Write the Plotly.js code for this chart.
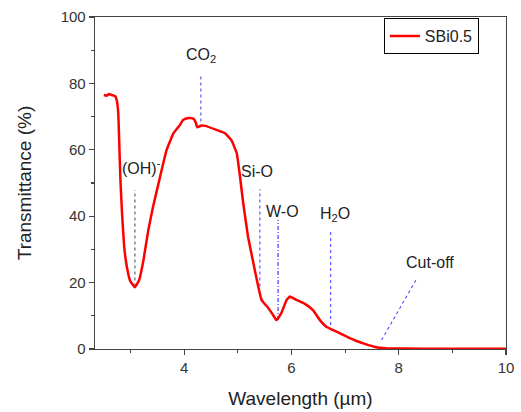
<!DOCTYPE html>
<html>
<head>
<meta charset="utf-8">
<script src="https://cdn.plot.ly/plotly-3.0.1.min.js"></script>
<style>html,body{margin:0;padding:0;background:#fff;}#chart{width:521px;height:412px;}</style>
</head>
<body>
<div id="chart"></div>
<script>
// Spectrum (wavelength in µm, transmittance in %)
const wavelength = [2.50, 2.55, 2.60, 2.65, 2.71, 2.74, 2.77, 2.79, 2.81, 2.84, 2.88, 2.93, 2.99, 3.08, 3.16, 3.24, 3.33, 3.42, 3.55, 3.67, 3.80, 3.92, 3.98, 4.05, 4.11, 4.18, 4.22, 4.24, 4.32, 4.39, 4.60, 4.76, 4.88, 4.98, 5.04, 5.10, 5.19, 5.29, 5.38, 5.44, 5.50, 5.57, 5.65, 5.72, 5.81, 5.91, 5.97, 6.09, 6.25, 6.40, 6.53, 6.65, 6.84, 7.03, 7.21, 7.34, 7.58, 7.77, 8.5, 9.0, 10.0];
const transmittance = [76.5, 76.3, 76.8, 76.5, 76.2, 75.0, 71.0, 61.0, 51.0, 40.9, 30.8, 24.8, 20.6, 18.6, 20.8, 26.8, 35.8, 42.9, 51.9, 59.9, 65.0, 67.5, 69.0, 69.5, 69.6, 69.3, 68.0, 66.8, 67.3, 67.2, 66.0, 65.0, 62.9, 58.9, 51.9, 43.9, 33.8, 25.8, 18.8, 14.8, 13.6, 12.3, 10.4, 8.7, 10.8, 14.8, 15.8, 14.8, 13.6, 11.7, 8.7, 6.7, 5.2, 3.7, 2.4, 1.7, 0.5, 0.2, 0.1, 0.1, 0.1];

// Band markers
const bandLabels = ['(OH)<sup>-</sup>', 'CO<sub>2</sub>', 'Si-O', 'W-O', 'H<sub>2</sub>O'];
const bandX = [3.08, 4.31, 5.41, 5.75, 6.73];
const bandTop = [47.9, 82.5, 48.1, 38.9, 35.8];
const bandBottom = [18.8, 68.5, 18.8, 8.7, 7.2];
const labelX = [3.21, 4.32, 5.35, 5.83, 6.81];
const labelY = [54.8, 88.5, 53.4, 41.3, 40.4];
// Cut-off marker
const cutoffLabel = 'Cut-off';
const cutoffLineX = [7.68, 8.34];
const cutoffLineY = [2.7, 21.3];
const cutoffLabelX = 8.58;
const cutoffLabelY = 26.2;

const xTicks = [4, 6, 8, 10];
const yTicks = [0, 20, 40, 60, 80, 100];

const bandColors = ['#555555', '#4a4aff', '#4a4aff', '#3030ff', '#4a4aff'];
const bandDash = ['dot', 'dot', 'dot', '4px,2px,1px,2px', 'dot'];

const traces = [];
for (let i = 0; i < bandX.length; i++) {
  traces.push({
    x: [bandX[i], bandX[i]], y: [bandBottom[i], bandTop[i]],
    mode: 'lines', showlegend: false, hoverinfo: 'skip',
    line: {color: bandColors[i], width: 1.1, dash: bandDash[i]}
  });
}
traces.push({
  x: cutoffLineX, y: cutoffLineY, mode: 'lines', showlegend: false, hoverinfo: 'skip',
  line: {color: '#4a4aff', width: 1.1, dash: 'dot'}
});
traces.push({
  x: wavelength, y: transmittance, mode: 'lines', name: 'SBi0.5',
  line: {color: '#ff0000', width: 2.5, shape: 'spline', smoothing: 0.3}
});

const annFont = {family: 'Liberation Sans, Arial, sans-serif', size: 16, color: '#222'};
const annotations = bandLabels.map((t, i) => ({
  x: labelX[i], y: labelY[i], xref: 'x', yref: 'y', text: t, showarrow: false, font: annFont
}));
annotations.push({x: cutoffLabelX, y: cutoffLabelY, xref: 'x', yref: 'y', text: cutoffLabel, showarrow: false, font: annFont});

const axisCommon = {
  showline: true, linecolor: '#444', linewidth: 1.3, mirror: true,
  ticks: 'outside', ticklen: 5, tickwidth: 1.2, tickcolor: '#444',
  showgrid: false, zeroline: false,
  tickfont: {family: 'Liberation Sans, Arial, sans-serif', size: 15, color: '#333'}
};

const layout = {
  width: 521, height: 412,
  margin: {l: 95, r: 15, t: 17, b: 63},
  paper_bgcolor: '#fff', plot_bgcolor: '#fff',
  xaxis: Object.assign({}, axisCommon, {
    range: [2.336, 10], tickvals: xTicks, ticktext: xTicks.map(String),
    minor: {dtick: 1, tick0: 3, ticks: 'outside', ticklen: 3, tickcolor: '#444'},
    title: {text: 'Wavelength (µm)', font: {family: 'Liberation Sans, Arial, sans-serif', size: 19, color: '#222'}, standoff: 16}
  }),
  yaxis: Object.assign({}, axisCommon, {
    range: [0, 100], tickvals: yTicks, ticktext: yTicks.map(String),
    minor: {dtick: 10, tick0: 0, ticks: 'outside', ticklen: 3, tickcolor: '#444'},
    title: {text: 'Transmittance (%)', font: {family: 'Liberation Sans, Arial, sans-serif', size: 19, color: '#222'}, standoff: 24}
  }),
  legend: {
    x: 0.934, y: 0.997, xanchor: 'right', yanchor: 'top',
    bordercolor: '#000', borderwidth: 1, bgcolor: '#fff',
    font: {family: 'Liberation Sans, Arial, sans-serif', size: 16, color: '#222'},
    tracegroupgap: 0
  },
  annotations: annotations,
  showlegend: true
};

Plotly.newPlot('chart', traces, layout, {displayModeBar: false, staticPlot: true});
</script>
</body>
</html>
